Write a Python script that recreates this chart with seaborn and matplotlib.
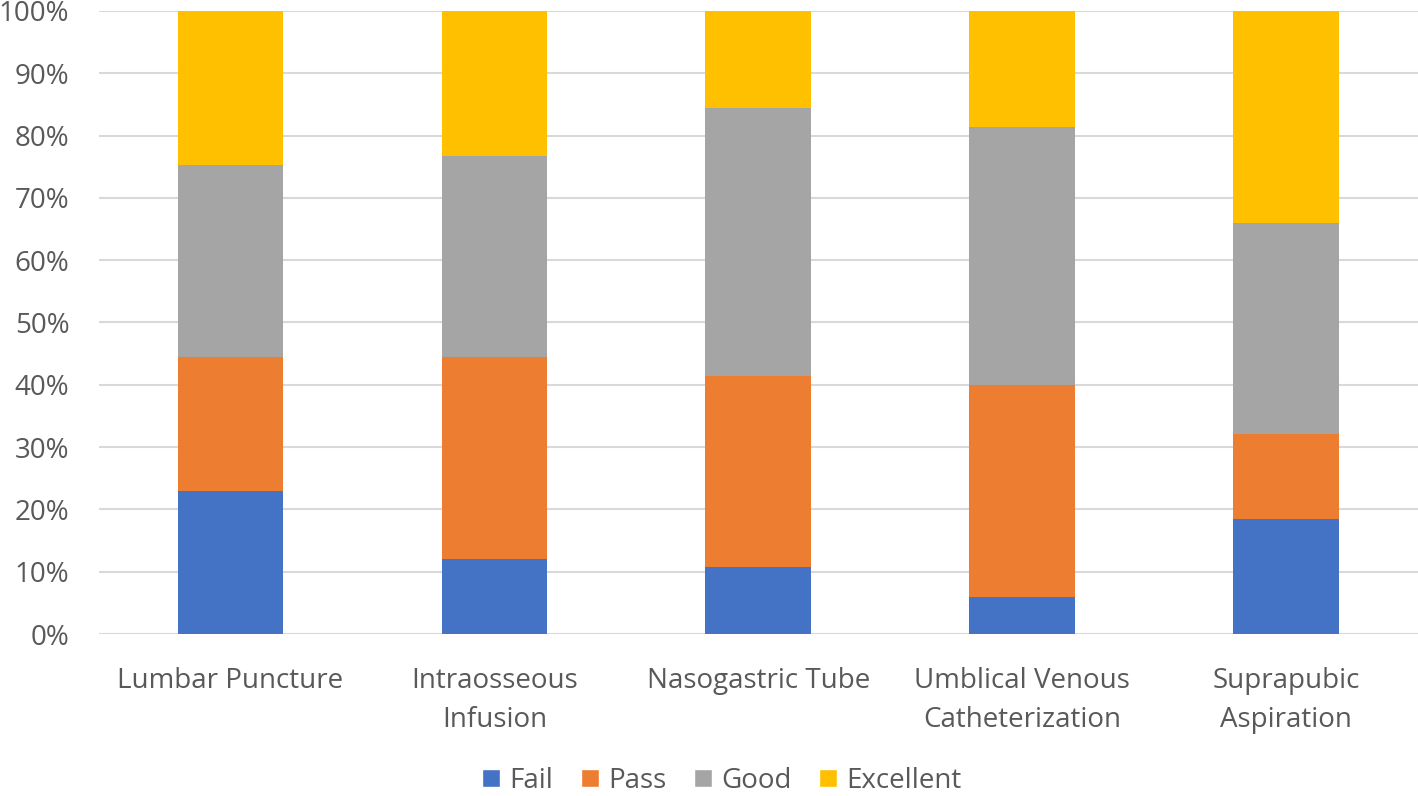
import numpy as np
import pandas as pd
import seaborn as sns
import matplotlib.pyplot as plt
from matplotlib.patches import Patch

# procedures and share of each rating (percent)
procedures = ['Lumbar Puncture', 'Intraosseous\nInfusion', 'Nasogastric Tube',
              'Umblical Venous\nCatheterization', 'Suprapubic\nAspiration']
fail = [23.0, 12.1, 10.7, 6.0, 18.4]
passed = [21.4, 32.3, 30.7, 33.9, 13.7]
good = [30.8, 32.3, 43.0, 41.4, 33.8]
excellent = [24.8, 23.3, 15.6, 18.7, 34.1]

levels = ['Fail', 'Pass', 'Good', 'Excellent']
colors = ['#4472C4', '#ED7D31', '#A5A5A5', '#FFC000']
text_col = '#595959'

sns.set_style('white')
plt.rcParams['font.family'] = ['Open Sans', 'DejaVu Sans']

df = pd.DataFrame({'procedure': procedures, 'Fail': fail, 'Pass': passed,
                   'Good': good, 'Excellent': excellent})

fig = plt.figure(figsize=(14.18, 7.96), dpi=100)
ax = fig.add_axes([0.0695, 0.2035, 0.9305, 0.7827])

# stack the segments
bottom = np.zeros(len(df))
for lvl, col in zip(levels, colors):
    sns.barplot(data=df, x='procedure', y=lvl, color=col, bottom=bottom,
                width=0.4, ax=ax, linewidth=0, saturation=1)
    bottom = bottom + df[lvl].values

ax.set_ylim(0, 100)
ax.set_xlim(-0.5, len(df) - 0.5)
ax.set_yticks(range(0, 101, 10))
ax.set_yticklabels([f'{v}%' for v in range(0, 101, 10)])
ax.yaxis.grid(True, color='#D9D9D9', linewidth=1.5)
ax.set_axisbelow(True)
for s in ax.spines.values():
    s.set_visible(False)
ax.tick_params(axis='both', length=0, labelsize=20, colors=text_col)
ax.tick_params(axis='y', pad=21)
ax.tick_params(axis='x', pad=24)
ax.set_xlabel('')
ax.set_ylabel('')
for lab in ax.get_xticklabels():
    lab.set_linespacing(1.5)

handles = [Patch(facecolor=c, label=l) for l, c in zip(levels, colors)]
leg = fig.legend(handles=handles, loc='center', ncol=4, frameon=False,
                 bbox_to_anchor=(0.509, 0.019), fontsize=20, handlelength=0.65,
                 handleheight=0.65, handletextpad=0.32, columnspacing=1.0,
                 borderpad=0.1)
for t in leg.get_texts():
    t.set_color(text_col)

fig.savefig('out.png', dpi=100)
